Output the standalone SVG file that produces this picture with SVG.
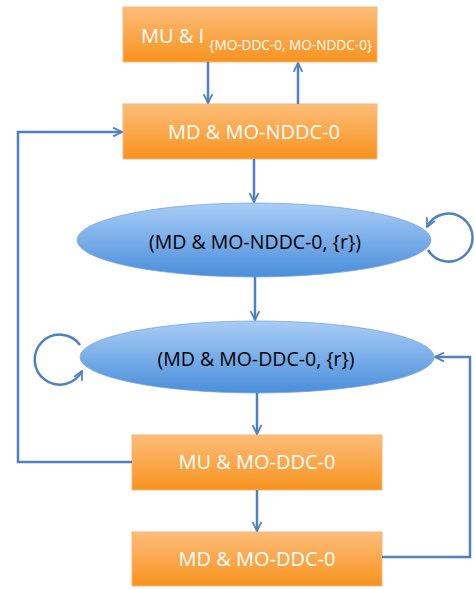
<svg xmlns="http://www.w3.org/2000/svg" width="474" height="589" viewBox="0 0 474 589">
<defs>
<linearGradient id="og" x1="0" y1="0" x2="0" y2="1">
<stop offset="0" stop-color="#fdbd7a"/>
<stop offset="1" stop-color="#f7931e"/>
</linearGradient>
<linearGradient id="bg" x1="0" y1="0" x2="0" y2="1">
<stop offset="0" stop-color="#a9cdf6"/>
<stop offset="1" stop-color="#4a8edb"/>
</linearGradient>
<marker id="ah" viewBox="0 0 10 10" refX="9" refY="5" markerWidth="4.4" markerHeight="4.4" orient="auto" markerUnits="strokeWidth">
<path d="M1,1 L9,5 L1,9" fill="none" stroke="#4f81bd" stroke-width="1.6"/>
</marker>
</defs>
<style>
.box{fill:url(#og);stroke:#f5b77a;stroke-width:1}
.ell{fill:url(#bg);stroke:#7aa7dc;stroke-width:0.8}
.bt{font-family:"Open Sans","Liberation Sans",sans-serif;fill:#ffffff;font-size:20px;text-anchor:middle}
.et{font-family:"Open Sans","Liberation Sans",sans-serif;fill:#000000;font-size:19.5px;text-anchor:middle}
.c{fill:none;stroke:#4f81bd;stroke-width:2.5;marker-end:url(#ah)}
</style>
<g id="n1">
<rect class="box" x="123" y="7" width="254" height="55"/>
<text class="bt" x="141" y="43" style="text-anchor:start">MU &amp; I <tspan font-size="13.6" dy="7">{MO-DDC-0, MO-NDDC-0}</tspan></text>
</g>
<g id="n2">
<rect class="box" x="123" y="104" width="254" height="55"/>
<text class="bt" x="254" y="139">MD &amp; MO-NDDC-0</text>
</g>
<g id="n3">
<ellipse class="ell" cx="254" cy="240" rx="177" ry="37"/>
<text class="et" x="255" y="249">(MD &amp; MO-NDDC-0, {r})</text>
</g>
<g id="n4">
<ellipse class="ell" cx="257" cy="357" rx="177" ry="36"/>
<text class="et" x="256" y="366">(MD &amp; MO-DDC-0, {r})</text>
</g>
<g id="n5">
<rect class="box" x="132" y="435" width="250" height="55"/>
<text class="bt" x="257" y="469">MU &amp; MO-DDC-0</text>
</g>
<g id="n6">
<rect class="box" x="132" y="532" width="250" height="54"/>
<text class="bt" x="257" y="566">MD &amp; MO-DDC-0</text>
</g>
<g id="connectors">
<path class="c" d="M208,62 V103"/>
<path class="c" d="M298,104 V63"/>
<path class="c" d="M254,159 V202"/>
<path class="c" d="M255,277 V320"/>
<path class="c" d="M257,393 V434"/>
<path class="c" d="M257,490 V531"/>
<path class="c" d="M132,462 H18 V132 H122"/>
<path class="c" d="M382,557 H470 V357 H435"/>
<path class="c" d="M428,250 A24,24 0 1 0 427,227"/>
<path class="c" d="M80,345 A25,25 0 1 0 82,371"/>
</g>
</svg>
